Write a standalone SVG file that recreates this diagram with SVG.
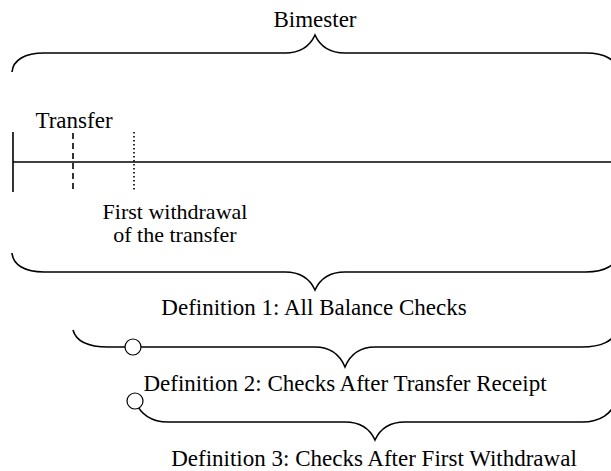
<svg xmlns="http://www.w3.org/2000/svg" width="611" height="471" viewBox="0 0 611 471">
<style>
.t{font-family:"Liberation Serif","Times New Roman",serif;font-size:23px;fill:#000;text-anchor:middle}
.s{font-size:22px}
.b{fill:none;stroke:#000;stroke-width:1.6}
.c{fill:#fff;stroke:#000;stroke-width:1.2}
</style>
<rect width="611" height="471" fill="#fff"/>
<g id="timeline">
<line class="b" x1="13" y1="162" x2="611" y2="162"/>
<line class="b" x1="13" y1="132" x2="13" y2="192"/>
<line class="b" x1="73" y1="133" x2="73" y2="192" stroke-dasharray="6,4"/>
<line class="b" x1="134" y1="132" x2="134" y2="192" stroke-dasharray="1.5,2.5"/>
<text class="t" x="74" y="128">Transfer</text>
<text class="t s" x="175" y="219">First withdrawal</text>
<text class="t s" x="175" y="242">of the transfer</text>
</g>
<g id="connectors">
<path id="brace-bimester" class="b" d="M12,72 C13,60 25,53 44,53 H285 C301,53 310,46 315,35 C320,46 329,53 345,53 H586 C605,53 617,60 618,72"/>
<path id="brace-def1" class="b" d="M12,253 C13,265 25,272 44,272 H285 C301,272 310,279 315,290 C320,279 329,272 345,272 H586 C605,272 617,265 618,253"/>
<path id="brace-def2" class="b" d="M73,330 C76,341 88,347 108,347 H315 C331,347 340,355 345,367 C350,355 359,347 375,347 H582 C601,347 614,341 617,330"/>
<path id="brace-def3" class="b" d="M135,401 C140,413 150,422 168,422 H345 C361,422 370,429 375,440 C380,429 389,422 405,422 H582 C601,422 612,413 615,402"/>
</g>
<g id="markers">
<circle class="c" cx="133" cy="347" r="8"/>
<circle class="c" cx="135" cy="401" r="8"/>
</g>
<g id="labels">
<text class="t" x="315" y="27">Bimester</text>
<text class="t" x="314" y="315">Definition 1: All Balance Checks</text>
<text class="t" x="345" y="391">Definition 2: Checks After Transfer Receipt</text>
<text class="t" x="374" y="466">Definition 3: Checks After First Withdrawal</text>
</g>
</svg>
